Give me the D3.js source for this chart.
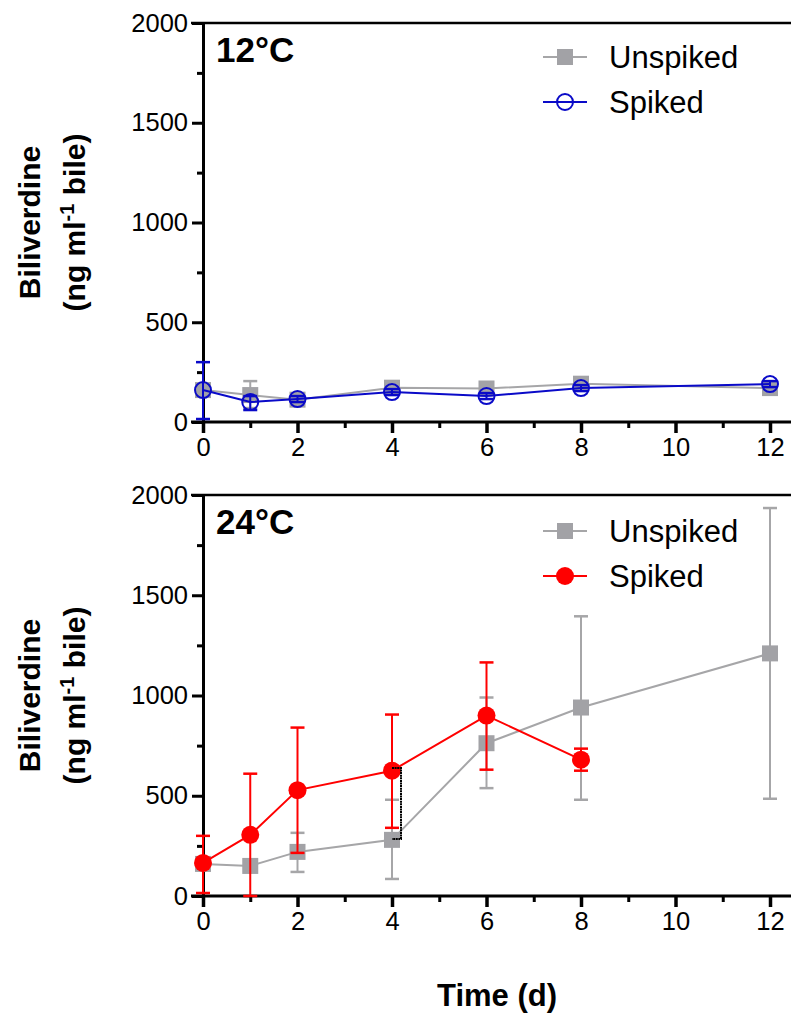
<!DOCTYPE html>
<html><head><meta charset="utf-8">
<script src="https://cdn.jsdelivr.net/npm/d3@7"></script>
<style>
body{margin:0;background:#fff;}
svg{display:block;font-family:"Liberation Sans",Arial,sans-serif;}
</style></head>
<body>
<svg id="c" width="791" height="1016"></svg>
<script>
// ---- data ----
const days = [0, 1, 2, 4, 6, 8, 12];
const days24Spiked = [0, 1, 2, 4, 6, 8];
// 12 °C
const unspiked12 = [160, 135, 112, 172, 168, 192, 170];
const unspiked12Lo = [130, 70, 95, 155, 150, 175, 155];
const unspiked12Hi = [190, 205, 130, 188, 185, 210, 185];
const spiked12 = [160, 100, 115, 150, 130, 170, 190];
const spiked12Lo = [15, 60, 100, 135, 115, 155, 175];
const spiked12Hi = [300, 130, 130, 165, 145, 185, 205];
// 24 °C
const unspiked24 = [160, 150, 220, 280, 762, 940, 1210];
const unspiked24Lo = [130, 120, 120, 85, 538, 480, 485];
const unspiked24Hi = [190, 180, 315, 480, 990, 1395, 1935];
const spiked24 = [165, 305, 528, 625, 900, 680];
const spiked24Lo = [15, 0, 215, 340, 630, 625];
const spiked24Hi = [300, 610, 840, 905, 1165, 735];
// significance bracket at day 4 (24 °C)
const bracketDay = 4;
const bracketVals = [638, 284];
// ticks
const xMajor = [0, 2, 4, 6, 8, 10, 12];
const xMinor = [1, 3, 5, 7, 9, 11];
const yMajor = [0, 500, 1000, 1500, 2000];
const yMinor = [250, 750, 1250, 1750];
const seriesNames = ["Unspiked", "Spiked"];
const panelLabels = ["12°C", "24°C"];

// ---- styles ----
const GREY_LINE = "#a6a6a8", GREY_FILL = "#a2a2a6";
const BLUE = "#0a0ac8", RED = "#ff0000";

const svg = d3.select("#c");
const x = d3.scaleLinear().domain([0, 12]).range([203, 770]);

const panels = [
  {y: d3.scaleLinear().domain([0, 2000]).range([422, 23]), label: panelLabels[0],
   series: [
     {name: seriesNames[0], xs: days, v: unspiked12, lo: unspiked12Lo, hi: unspiked12Hi, color: GREY_LINE, marker: "square"},
     {name: seriesNames[1], xs: days, v: spiked12, lo: spiked12Lo, hi: spiked12Hi, color: BLUE, marker: "open"}
   ], legendY: [57, 102]},
  {y: d3.scaleLinear().domain([0, 2000]).range([896, 495]), label: panelLabels[1],
   series: [
     {name: seriesNames[0], xs: days, v: unspiked24, lo: unspiked24Lo, hi: unspiked24Hi, color: GREY_LINE, marker: "square"},
     {name: seriesNames[1], xs: days24Spiked, v: spiked24, lo: spiked24Lo, hi: spiked24Hi, color: RED, marker: "filled"}
   ], legendY: [531, 576], bracket: true}
];

function drawMarker(g, type, cx, cy, color) {
  if (type === "square") {
    g.append("rect").attr("x", cx - 8).attr("y", cy - 8).attr("width", 16).attr("height", 16)
      .attr("fill", GREY_FILL);
  } else if (type === "open") {
    g.append("circle").attr("cx", cx).attr("cy", cy).attr("r", 8)
      .attr("fill", "none").attr("stroke", color).attr("stroke-width", 2);
  } else {
    g.append("circle").attr("cx", cx).attr("cy", cy).attr("r", 9).attr("fill", color);
  }
}

panels.forEach((p, pi) => {
  const y = p.y;
  const g = svg.append("g");

  // frame top line at 2000
  g.append("line").attr("x1", 191).attr("x2", 791).attr("y1", y(2000)).attr("y2", y(2000))
    .attr("stroke", "#000").attr("stroke-width", 2.5);

  // y axis
  const yAx = g.append("g").attr("transform", `translate(${x(0)},0)`)
    .call(d3.axisLeft(y).tickValues(yMajor).tickSize(11).tickSizeOuter(0).tickPadding(4).tickFormat(d3.format("d")));
  yAx.select(".domain").attr("stroke-width", 3);
  yAx.selectAll(".tick line").attr("stroke-width", 3);
  yAx.selectAll("text").attr("font-size", 25.5).attr("fill", "#000")
    .attr("font-family", "'Liberation Sans',Arial,sans-serif");
  const yMin = g.append("g").attr("transform", `translate(${x(0)},0)`)
    .call(d3.axisLeft(y).tickValues(yMinor).tickSize(6).tickSizeOuter(0).tickFormat(""));
  yMin.select(".domain").remove();
  yMin.selectAll(".tick line").attr("stroke-width", 3);

  // x axis
  const xAx = g.append("g").attr("transform", `translate(0,${y(0)})`)
    .call(d3.axisBottom(x).tickValues(xMajor).tickSize(11).tickSizeOuter(0).tickPadding(5));
  xAx.select(".domain").remove();
  xAx.selectAll(".tick line").attr("stroke-width", 3.5);
  xAx.selectAll("text").attr("font-size", 25.5).attr("fill", "#000")
    .attr("font-family", "'Liberation Sans',Arial,sans-serif");
  const xMin = g.append("g").attr("transform", `translate(0,${y(0)})`)
    .call(d3.axisBottom(x).tickValues(xMinor).tickSize(6).tickSizeOuter(0).tickFormat(""));
  xMin.select(".domain").remove();
  xMin.selectAll(".tick line").attr("stroke-width", 3);
  g.append("line").attr("x1", 191).attr("x2", 791).attr("y1", y(0)).attr("y2", y(0))
    .attr("stroke", "#000").attr("stroke-width", 3);

  // series
  p.series.forEach(s => {
    const sg = g.append("g");
    // error bars
    s.xs.forEach((d, i) => {
      const cx = x(d);
      sg.append("line").attr("x1", cx).attr("x2", cx).attr("y1", y(s.lo[i])).attr("y2", y(s.hi[i]))
        .attr("stroke", s.color).attr("stroke-width", 2);
      [s.lo[i], s.hi[i]].forEach(v => {
        sg.append("line").attr("x1", cx - 7).attr("x2", cx + 7).attr("y1", y(v)).attr("y2", y(v))
          .attr("stroke", s.color).attr("stroke-width", 2.5);
      });
    });
    // line
    const line = d3.line().x((d, i) => x(s.xs[i])).y(d => y(d));
    sg.append("path").datum(s.v).attr("d", line).attr("fill", "none")
      .attr("stroke", s.color).attr("stroke-width", 2);
    s.xs.forEach((d, i) => drawMarker(sg, s.marker, x(d), y(s.v[i]), s.color));

    // legend
    const si = p.series.indexOf(s);
    const ly = p.legendY[si];
    g.append("line").attr("x1", 543).attr("x2", 587).attr("y1", ly).attr("y2", ly)
      .attr("stroke", s.color).attr("stroke-width", 2);
    drawMarker(g, s.marker, 565, ly, s.color);
    g.append("text").attr("x", 609).attr("y", ly).attr("dy", "0.36em")
      .attr("font-size", 31).attr("fill", "#000").text(s.name);
  });

  // bracket
  if (p.bracket) {
    const bx = x(bracketDay) + 9;
    const y1 = y(bracketVals[0]), y2 = y(bracketVals[1]);
    g.append("path").attr("d", `M${bx - 9},${y1}H${bx}V${y2}H${bx - 9}`)
      .attr("fill", "none").attr("stroke", "#000").attr("stroke-width", 2)
      .attr("stroke-dasharray", "2,0.6");
  }

  // panel label
  g.append("text").attr("x", 216).attr("y", y(2000) + 39).attr("font-size", 35)
    .attr("font-weight", "bold").attr("fill", "#000").text(p.label);

  // y title
  const cy = (y(0) + y(2000)) / 2;
  g.append("text").attr("transform", `translate(40,${cy}) rotate(-90)`).attr("text-anchor", "middle")
    .attr("font-size", 30).attr("font-weight", "bold").text("Biliverdine");
  const t2 = g.append("text").attr("transform", `translate(85,${cy}) rotate(-90)`).attr("text-anchor", "middle")
    .attr("font-size", 30).attr("font-weight", "bold");
  t2.append("tspan").text("(ng ml");
  t2.append("tspan").attr("font-size", 20).attr("dy", -11).text("-1");
  t2.append("tspan").attr("dy", 11).text(" bile)");
});

// x title
svg.append("text").attr("x", 497).attr("y", 1006).attr("text-anchor", "middle")
  .attr("font-size", 31).attr("font-weight", "bold").text("Time (d)");
</script>
</body></html>
